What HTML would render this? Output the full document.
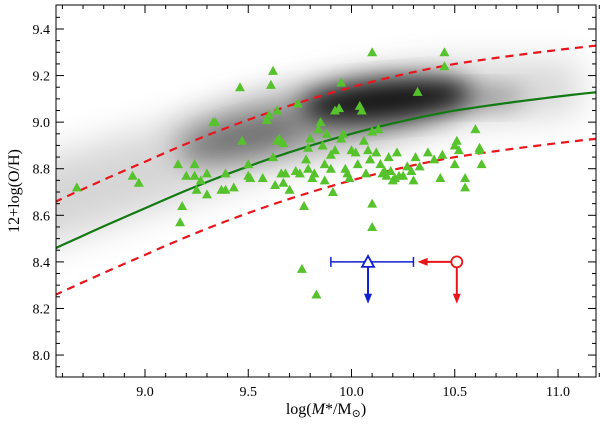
<!DOCTYPE html>
<html><head><meta charset="utf-8"><style>
html,body{margin:0;padding:0;background:#fff;}
svg text{font-family:"Liberation Serif","DejaVu Serif",serif;}
</style></head><body>
<svg id="chart" width="600" height="421" viewBox="0 0 600 421" xmlns="http://www.w3.org/2000/svg">
<defs>
<clipPath id="clip"><rect x="56" y="5" width="540" height="372"/></clipPath>
<filter id="b1" x="-50%" y="-50%" width="200%" height="200%"><feGaussianBlur stdDeviation="18"/></filter>
<filter id="b2" x="-50%" y="-50%" width="200%" height="200%"><feGaussianBlur stdDeviation="16"/></filter>
<filter id="b3" x="-50%" y="-50%" width="200%" height="200%"><feGaussianBlur stdDeviation="12"/></filter>
</defs>
<g clip-path="url(#clip)">
<path d="M20,165 L150,128 L250,100 L350,75 L450,62 L580,62 L580,112 L450,125 L350,145 L250,180 L150,212 L20,255 Z" fill="#000" opacity="0.16" filter="url(#b1)"/>
<ellipse cx="320" cy="118" rx="150" ry="30" transform="rotate(-10 320 118)" fill="#000" opacity="0.3" filter="url(#b2)"/>
<ellipse cx="240" cy="140" rx="60" ry="18" transform="rotate(-14 240 140)" fill="#000" opacity="0.25" filter="url(#b3)"/>
<ellipse cx="385" cy="100" rx="85" ry="20" transform="rotate(-5 385 100)" fill="#000" opacity="0.88" filter="url(#b3)"/>
<ellipse cx="480" cy="98" rx="45" ry="12" fill="#000" opacity="0.3" filter="url(#b3)"/>
</g>
<g id="lines" clip-path="url(#clip)"></g>
<g id="pts" clip-path="url(#clip)"></g>
<g id="limits"></g>
<rect x="56" y="5" width="540" height="372" fill="none" stroke="#000" stroke-width="1"/>
<g id="axes"></g>
<text x="326" y="414" font-size="16" text-anchor="middle">log(<tspan font-style="italic">M</tspan>*/M<tspan font-size="11" dy="3">⊙</tspan><tspan dy="-3">)</tspan></text>
<text transform="translate(19 191) rotate(-90)" font-size="16" text-anchor="middle">12+log(O/H)</text>
</svg>
<script>
const xTicks=[9.0,9.5,10.0,10.5,11.0];
const yTicks=[8.0,8.2,8.4,8.6,8.8,9.0,9.2,9.4];
const fitMass=[8.57,9.0,9.5,10.0,10.5,11.0,11.2];
const fitOH=[8.46,8.63,8.81,8.95,9.05,9.11,9.13];
const fitOffset=0.2;
const ptMass=[8.67,8.94,8.97,9.16,9.17,9.18,9.2,9.24,9.24,9.25,9.27,9.3,9.3,9.33,9.34,9.37,9.39,9.39,9.43,9.46,9.47,9.5,9.5,9.51,9.57,9.59,9.6,9.61,9.62,9.62,9.63,9.64,9.64,9.65,9.66,9.67,9.67,9.68,9.7,9.73,9.74,9.75,9.76,9.77,9.78,9.79,9.79,9.8,9.81,9.82,9.83,9.84,9.85,9.86,9.87,9.87,9.88,9.9,9.9,9.91,9.92,9.92,9.94,9.95,9.95,9.96,9.97,9.98,9.99,10.0,10.02,10.03,10.04,10.05,10.06,10.07,10.08,10.09,10.1,10.1,10.1,10.1,10.12,10.13,10.14,10.15,10.16,10.17,10.18,10.19,10.2,10.21,10.22,10.23,10.25,10.27,10.29,10.3,10.31,10.32,10.33,10.37,10.4,10.43,10.44,10.45,10.45,10.5,10.5,10.51,10.52,10.55,10.55,10.6,10.62,10.62,10.63];
const ptOH=[8.72,8.77,8.74,8.82,8.57,8.64,8.77,8.82,8.77,8.71,8.75,8.78,8.69,9.0,9.0,8.71,8.71,8.78,8.72,9.15,8.92,8.82,8.77,8.76,8.76,9.01,9.03,9.16,9.22,8.85,8.73,9.05,8.92,8.93,8.78,8.74,8.91,8.78,8.71,8.79,9.08,8.78,8.37,8.64,8.84,8.89,8.8,8.93,8.76,8.78,8.26,8.97,9.0,8.9,8.82,8.75,8.95,8.8,8.86,8.7,8.88,9.05,9.06,9.17,8.93,8.95,8.8,8.78,8.76,8.88,8.87,8.82,9.07,9.05,8.92,8.78,8.88,8.84,9.3,8.55,8.65,8.96,8.87,8.97,8.82,8.78,8.79,8.77,8.85,8.79,8.75,8.76,8.87,8.77,8.77,8.81,8.79,8.75,8.85,9.13,8.81,8.87,8.84,8.76,8.86,9.3,9.24,8.82,8.9,8.92,8.88,8.76,8.72,8.97,8.88,8.89,8.82];
const blueLimit=[10.08,8.40,9.9,10.3,8.22];
const redLimit=[10.51,8.40,10.32,8.22];
const X=v=>56+(v-8.569)*206.5;
const Y=v=>5+(9.503-v)*232.9;
const NS="http://www.w3.org/2000/svg";
function mk(t,a,p){const e=document.createElementNS(NS,t);for(const k in a)e.setAttribute(k,a[k]);p.appendChild(e);return e;}
const axes=document.getElementById('axes');
for(let v=8.6;v<=11.2;v+=0.1){const x=X(v);
 const big=xTicks.some(t=>Math.abs(t-v)<1e-6);const L=big?8:4;
 const a=mk('line',{x1:x,x2:x,y1:377,y2:377-L,stroke:'#000'},axes);
 mk('line',{x1:x,x2:x,y1:5,y2:5+L,stroke:'#000'},axes);}
for(let v=7.95;v<=9.5;v+=0.05){const y=Y(v);
 const big=yTicks.some(t=>Math.abs(t-v)<1e-6);const L=big?8:4;
 const a=mk('line',{x1:56,x2:56+L,y1:y,y2:y,stroke:'#000'},axes);
 mk('line',{x1:596,x2:596-L,y1:y,y2:y,stroke:'#000'},axes);}
xTicks.forEach(t=>{const e=mk('text',{x:X(t),y:396,'font-size':14,'text-anchor':'middle'},axes);e.textContent=t.toFixed(1);
 });
yTicks.forEach(t=>{const e=mk('text',{x:50,y:Y(t)+5,'font-size':14,'text-anchor':'end'},axes);e.textContent=t.toFixed(1);
 });
function curve(off){let d='';const n=60;
 for(let i=0;i<=n;i++){const m=8.5+i*(2.75/n);
  let j=0;while(j<fitMass.length-2&&m>fitMass[j+1])j++;
  const k=Math.min(Math.max(j,0),fitMass.length-3);
  const [x0,x1,x2]=[fitMass[k],fitMass[k+1],fitMass[k+2]],[y0,y1,y2]=[fitOH[k],fitOH[k+1],fitOH[k+2]];
  const v=y0*(m-x1)*(m-x2)/((x0-x1)*(x0-x2))+y1*(m-x0)*(m-x2)/((x1-x0)*(x1-x2))+y2*(m-x0)*(m-x1)/((x2-x0)*(x2-x1));
  d+=(i?'L':'M')+X(m).toFixed(1)+','+Y(v+off).toFixed(1);}
 return d;}
const lines=document.getElementById('lines');
const g=mk('path',{d:curve(0),fill:'none',stroke:'#137a13','stroke-width':2.2},lines);

const u=mk('path',{d:curve(fitOffset),fill:'none',stroke:'#e8151b','stroke-width':2.2,'stroke-dasharray':'8,6'},lines);

const l=mk('path',{d:curve(-fitOffset),fill:'none',stroke:'#e8151b','stroke-width':2.2,'stroke-dasharray':'8,6'},lines);

const pts=document.getElementById('pts');
ptMass.forEach((m,i)=>{const x=X(m),y=Y(ptOH[i]);
 const p=mk('polygon',{points:`${x},${y-5} ${x-5},${y+4} ${x+5},${y+4}`,fill:'#56c22c'},pts);
 });
const lim=document.getElementById('limits');
{const [m,o,lo,hi,dn]=blueLimit;const x=X(m),y=Y(o);
 const b=mk('g',{},lim);
 mk('line',{x1:X(lo),x2:X(hi),y1:y,y2:y,stroke:'#1020d0','stroke-width':1.5},b);
 mk('line',{x1:X(lo),x2:X(lo),y1:y-5,y2:y+5,stroke:'#1020d0','stroke-width':1.5},b);
 mk('line',{x1:X(hi),x2:X(hi),y1:y-5,y2:y+5,stroke:'#1020d0','stroke-width':1.5},b);
 mk('line',{x1:x,x2:x,y1:y,y2:Y(dn)-8,stroke:'#1020d0','stroke-width':2},b);
 mk('polygon',{points:`${x-4},${Y(dn)-10} ${x+4},${Y(dn)-10} ${x},${Y(dn)}`,fill:'#1020d0'},b);
 mk('polygon',{points:`${x},${y-6} ${x-6},${y+5} ${x+6},${y+5}`,fill:'#fff',stroke:'#1020d0','stroke-width':1.8},b);}
{const [m,o,lt,dn]=redLimit;const x=X(m),y=Y(o);
 const r=mk('g',{},lim);
 mk('line',{x1:X(lt)+8,x2:x,y1:y,y2:y,stroke:'#e8151b','stroke-width':2},r);
 mk('polygon',{points:`${X(lt)},${y} ${X(lt)+10},${y-4} ${X(lt)+10},${y+4}`,fill:'#e8151b'},r);
 mk('line',{x1:x,x2:x,y1:y,y2:Y(dn)-8,stroke:'#e8151b','stroke-width':2},r);
 mk('polygon',{points:`${x-4},${Y(dn)-10} ${x+4},${Y(dn)-10} ${x},${Y(dn)}`,fill:'#e8151b'},r);
 mk('circle',{cx:x,cy:y,r:5.5,fill:'#fff',stroke:'#e8151b','stroke-width':1.8},r);}
</script>
</body></html>
